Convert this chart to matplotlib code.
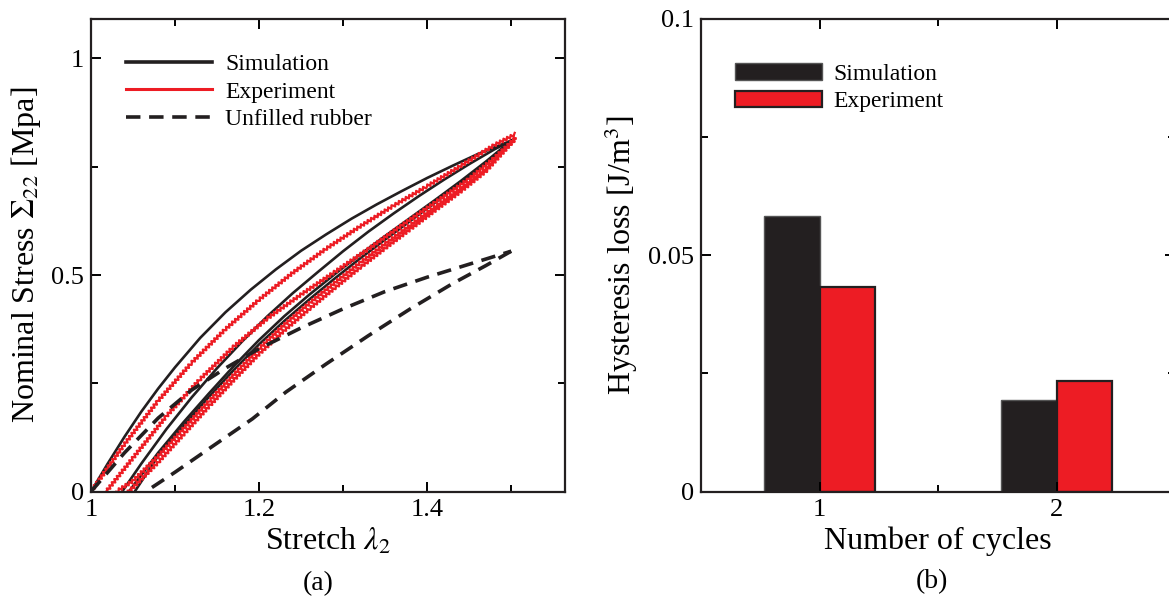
import matplotlib
matplotlib.use("Agg")
import matplotlib.pyplot as plt
from matplotlib.patches import Patch
from matplotlib.lines import Line2D
from matplotlib.ticker import MultipleLocator

plt.rcParams['font.family'] = ['Liberation Serif', 'DejaVu Serif']
plt.rcParams['mathtext.fontset'] = 'stix'

BLACK = '#231f20'
RED = '#ed1c24'

# (a) stress-stretch loops
# simulation: first loading, reloading, two unloading branches
sim_load_x = [1.00, 1.02, 1.04, 1.06, 1.08, 1.10, 1.13, 1.16, 1.19, 1.22,
              1.25, 1.28, 1.31, 1.34, 1.37, 1.40, 1.43, 1.46, 1.50]
sim_load_y = [0.000, 0.065, 0.127, 0.185, 0.238, 0.287, 0.355, 0.414, 0.466, 0.513,
              0.556, 0.594, 0.630, 0.663, 0.694, 0.724, 0.752, 0.779, 0.810]
sim_reload_x = [1.037, 1.06, 1.09, 1.12, 1.15, 1.18, 1.21, 1.24, 1.27, 1.30,
                1.33, 1.36, 1.39, 1.42, 1.45, 1.48, 1.50]
sim_reload_y = [0.000, 0.065, 0.145, 0.218, 0.285, 0.347, 0.405, 0.458, 0.507, 0.555,
                0.600, 0.642, 0.682, 0.720, 0.756, 0.790, 0.810]
sim_unload1_x = [1.50, 1.47, 1.44, 1.41, 1.38, 1.35, 1.32, 1.29, 1.26, 1.23,
                 1.20, 1.17, 1.14, 1.11, 1.08, 1.045]
sim_unload1_y = [0.810, 0.762, 0.717, 0.674, 0.632, 0.590, 0.547, 0.502, 0.455, 0.405,
                 0.350, 0.290, 0.226, 0.160, 0.090, 0.000]
sim_unload2_x = [1.50, 1.47, 1.44, 1.41, 1.38, 1.35, 1.32, 1.29, 1.26, 1.23,
                 1.20, 1.17, 1.14, 1.11, 1.08, 1.052]
sim_unload2_y = [0.810, 0.758, 0.712, 0.668, 0.625, 0.582, 0.538, 0.492, 0.444, 0.394,
                 0.340, 0.281, 0.218, 0.152, 0.083, 0.000]

# experiment
exp_load_x = [1.00, 1.04, 1.08, 1.12, 1.16, 1.20, 1.24, 1.28, 1.32, 1.36,
              1.40, 1.44, 1.48, 1.505]
exp_load_y = [0.000, 0.110, 0.210, 0.298, 0.375, 0.443, 0.505, 0.561, 0.612, 0.660,
              0.705, 0.752, 0.800, 0.825]
exp_reload_x = [1.018, 1.05, 1.09, 1.13, 1.17, 1.21, 1.25, 1.29, 1.33, 1.37,
                1.41, 1.45, 1.48, 1.505]
exp_reload_y = [0.000, 0.078, 0.175, 0.260, 0.335, 0.400, 0.455, 0.507, 0.560, 0.615,
                0.668, 0.722, 0.770, 0.815]
exp_unload1_x = [1.505, 1.47, 1.44, 1.41, 1.38, 1.35, 1.32, 1.29, 1.26, 1.23,
                 1.20, 1.17, 1.14, 1.11, 1.08, 1.05, 1.03]
exp_unload1_y = [0.815, 0.745, 0.700, 0.658, 0.615, 0.572, 0.528, 0.482, 0.435, 0.385,
                 0.330, 0.270, 0.208, 0.145, 0.082, 0.025, 0.000]
exp_unload2_x = [1.505, 1.47, 1.44, 1.41, 1.38, 1.35, 1.32, 1.29, 1.26, 1.23,
                 1.20, 1.17, 1.14, 1.11, 1.08, 1.045]
exp_unload2_y = [0.815, 0.740, 0.693, 0.650, 0.606, 0.562, 0.517, 0.470, 0.422, 0.372,
                 0.318, 0.258, 0.196, 0.132, 0.068, 0.000]

# unfilled rubber
unf_load_x = [1.000, 1.040, 1.080, 1.120, 1.160, 1.200, 1.250, 1.300, 1.350, 1.400,
              1.450, 1.500]
unf_load_y = [0.000, 0.090, 0.170, 0.235, 0.285, 0.330, 0.378, 0.422, 0.462, 0.495,
              0.525, 0.555]
unf_unload_x = [1.500, 1.470, 1.430, 1.380, 1.330, 1.280, 1.232, 1.192, 1.144, 1.100,
                1.065]
unf_unload_y = [0.555, 0.522, 0.480, 0.422, 0.360, 0.295, 0.230, 0.168, 0.104, 0.045,
                0.000]

# (b) hysteresis loss per cycle
cycles = [1, 2]
loss_sim = [0.0583, 0.0193]
loss_exp = [0.0432, 0.0233]


def style_axes(ax):
    ax.tick_params(which='both', direction='in', top=True, right=True,
                   labelsize=19, width=1.4, pad=5)
    ax.tick_params(which='major', length=7.5)
    ax.tick_params(which='minor', length=5)
    for sp in ax.spines.values():
        sp.set_linewidth(1.6)
        sp.set_color(BLACK)


fig = plt.figure(figsize=(11.69, 5.99), dpi=100)
ax1 = fig.add_axes([0.0778, 0.1791, 0.4055, 0.790])
ax2 = fig.add_axes([0.5997, 0.1791, 0.4055, 0.790])

sim_kw = dict(color=BLACK, lw=1.9)
for xs, ys in [(sim_load_x, sim_load_y), (sim_reload_x, sim_reload_y),
               (sim_unload1_x, sim_unload1_y), (sim_unload2_x, sim_unload2_y)]:
    ax1.plot(xs, ys, **sim_kw)

# measured curves are stair-stepped, give them a jagged stroke
for xs, ys in [(exp_load_x, exp_load_y), (exp_reload_x, exp_reload_y),
               (exp_unload1_x, exp_unload1_y), (exp_unload2_x, exp_unload2_y)]:
    line, = ax1.plot(xs, ys, color=RED, lw=1.6)
    line.set_sketch_params(scale=1.5, length=4, randomness=1)

for xs, ys in [(unf_load_x, unf_load_y), (unf_unload_x, unf_unload_y)]:
    ax1.plot(xs, ys, color=BLACK, lw=2.6, ls=(0, (4, 2.4)))

ax1.set_xlim(1.0, 1.564)
ax1.set_ylim(0, 1.092)
ax1.xaxis.set_minor_locator(MultipleLocator(0.1))
ax1.yaxis.set_minor_locator(MultipleLocator(0.25))
ax1.set_xticks([1.0, 1.2, 1.4])
ax1.set_xticklabels(['1', '1.2', '1.4'])
ax1.set_yticks([0, 0.5, 1.0])
ax1.set_yticklabels(['0', '0.5', '1'])
style_axes(ax1)
ax1.set_xlabel(r'Stretch $\lambda_2$', fontsize=23, labelpad=4)
ax1.set_ylabel(r'Nominal Stress $\Sigma_{22}$ [Mpa]', fontsize=23, labelpad=6)

handles1 = [Line2D([], [], color=BLACK, lw=2.6),
            Line2D([], [], color=RED, lw=2.2),
            Line2D([], [], color=BLACK, lw=2.6, ls=(0, (4, 2.4)))]
ax1.legend(handles1, ['Simulation', 'Experiment', 'Unfilled rubber'],
           loc='upper left', bbox_to_anchor=(0.054, 0.946), frameon=False,
           fontsize=17, handlelength=3.65, handletextpad=0.55, labelspacing=0.26,
           borderaxespad=0)

# bar chart
width = 0.235
xs_sim = [c - width / 2 for c in cycles]
xs_exp = [c + width / 2 for c in cycles]
ax2.bar(xs_sim, loss_sim, width, color=BLACK, edgecolor='#555555', lw=1.0)
ax2.bar(xs_exp, loss_exp, width, color=RED, edgecolor=BLACK, lw=1.6)
ax2.set_xlim(0.5, 2.5)
ax2.set_ylim(0, 0.1)
ax2.set_xticks(cycles)
ax2.set_xticklabels(['1', '2'])
ax2.xaxis.set_minor_locator(MultipleLocator(0.5))
ax2.set_yticks([0, 0.05, 0.1])
ax2.set_yticklabels(['0', '0.05', '0.1'])
ax2.yaxis.set_minor_locator(MultipleLocator(0.025))
style_axes(ax2)
ax2.set_xlabel('Number of cycles', fontsize=23, labelpad=4)
ax2.set_ylabel(r'Hysteresis loss [J/m$^3$]', fontsize=23, labelpad=6)

handles2 = [Patch(facecolor=BLACK, edgecolor='#555555', lw=1.0),
            Patch(facecolor=RED, edgecolor=BLACK, lw=1.6)]
ax2.legend(handles2, ['Simulation', 'Experiment'], loc='upper left',
           bbox_to_anchor=(0.051, 0.925), frameon=False, fontsize=17,
           handlelength=3.7, handleheight=0.7, handletextpad=0.5,
           labelspacing=0.25, borderaxespad=0)

fig.text(318 / 1169, 1 - 584 / 599, '(a)', fontsize=20, ha='center', va='center')
fig.text(932 / 1169, 1 - 582 / 599, '(b)', fontsize=20, ha='center', va='center')

fig.savefig('out.png', dpi=100)
